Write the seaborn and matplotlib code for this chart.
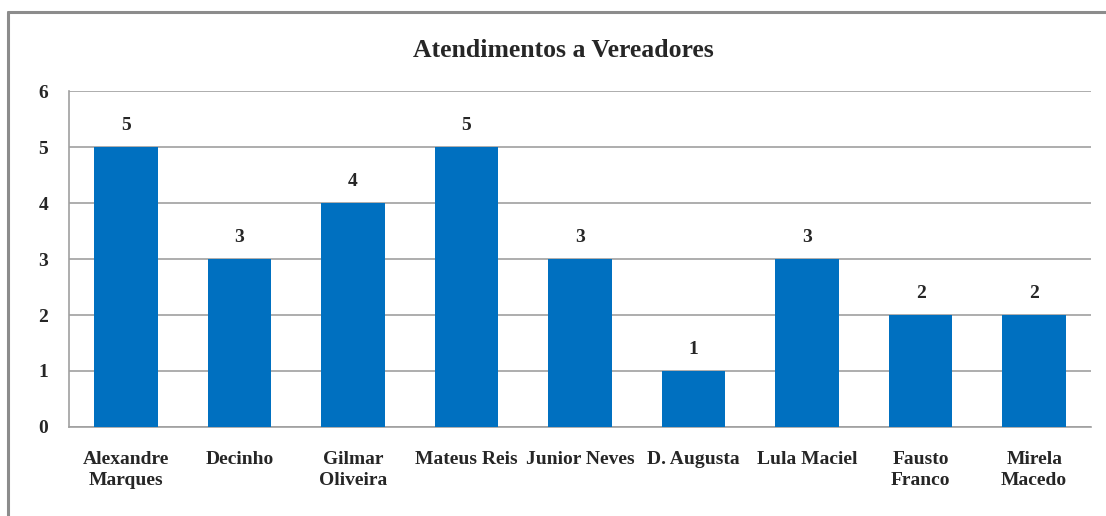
import matplotlib
matplotlib.use("Agg")
import matplotlib.pyplot as plt
from matplotlib.lines import Line2D
import seaborn as sns
import pandas as pd

categories = ["Alexandre\nMarques", "Decinho", "Gilmar\nOliveira", "Mateus Reis",
              "Junior Neves", "D. Augusta", "Lula Maciel", "Fausto\nFranco", "Mirela\nMacedo"]
values = [5, 3, 4, 5, 3, 1, 3, 2, 2]
yticks = [0, 1, 2, 3, 4, 5, 6]
title = "Atendimentos a Vereadores"

sns.set_theme(style="white")
plt.rcParams['font.family'] = ['Liberation Serif', 'DejaVu Serif']

df = pd.DataFrame({"cat": categories, "val": values})

fig = plt.figure(figsize=(11.06, 5.16), dpi=100)
ax = fig.add_axes([0.0624, 0.1725, 0.9240, 0.6511])

sns.barplot(data=df, x="cat", y="val", color="#0070C0", saturation=1, width=0.56, ax=ax,
            zorder=3, linewidth=0, edgecolor="none")

ax.set_ylim(0, 6)
ax.set_yticks(yticks)
ax.set_yticklabels([str(t) for t in yticks], fontsize=14, fontweight="bold")
ax.set_xlim(-0.5, len(categories) - 0.5)
ax.tick_params(axis="x", labelsize=14, pad=17, length=0)
ax.tick_params(axis="y", pad=15, length=0)
for lab in ax.get_xticklabels():
    lab.set_fontweight("bold")
    lab.set_linespacing(1.3)
ax.set_xlabel("")
ax.set_ylabel("")
ax.yaxis.grid(True, color="#A0A0A0", linewidth=1.2, zorder=0)
ax.set_axisbelow(True)
for s in ["top", "right"]:
    ax.spines[s].set_visible(False)
for s in ["left", "bottom"]:
    ax.spines[s].set_color("#A0A0A0")
    ax.spines[s].set_linewidth(1.2)

for i, v in enumerate(values):
    ax.text(i, v + 0.23, str(v), ha="center", va="bottom", fontsize=14, fontweight="bold")

fig.text(0.509, 0.903, title, ha="center", va="center", fontsize=18.5, fontweight="bold")

# outer frame lines (top and left)
fig.add_artist(Line2D([8/1106, 1.0], [1 - 12/516, 1 - 12/516], color="#8C8C8C", linewidth=2.2,
                      transform=fig.transFigure))
fig.add_artist(Line2D([8/1106, 8/1106], [0, 1 - 12/516], color="#8C8C8C", linewidth=2.2,
                      transform=fig.transFigure))

fig.savefig("out.png", dpi=100)
